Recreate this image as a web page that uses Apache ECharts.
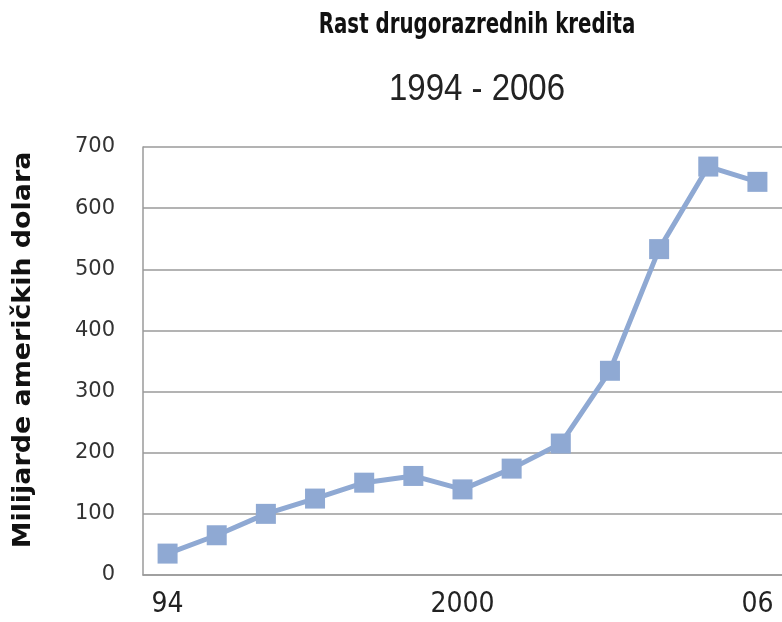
<!DOCTYPE html>
<html>
<head>
<meta charset="utf-8">
<title>Rast drugorazrednih kredita</title>
<script src="https://cdn.jsdelivr.net/npm/echarts@6/dist/echarts.min.js"></script>
<style>
  html, body { margin: 0; padding: 0; background: #fff; }
  #chart { width: 782px; height: 622px; }
</style>
</head>
<body>
<div id="chart"></div>
<script>
// godine i vrijednosti (milijarde USD), procijenjeno sa slike
var years = ['1994', '1995', '1996', '1997', '1998', '1999', '2000', '2001', '2002', '2003', '2004', '2005', '2006'];
var loans = [35, 65, 100, 125, 151, 162, 140, 174, 215, 334, 533, 668, 643];
// oznake koje se vide ispod osi
var xTickLabels = { '1994': '94', '2000': '2000', '2006': '06' };
var yTicks = [0, 100, 200, 300, 400, 500, 600, 700];

var myChart = echarts.init(document.getElementById('chart'));

myChart.setOption({
    animation: false,
    grid: { left: 143, top: 147, bottom: 47, width: 641 },
    graphic: [
        {
            type: 'text', x: 477, y: 26, scaleY: 1.3,
            style: {
                text: 'Rast drugorazrednih kredita', align: 'center', verticalAlign: 'middle',
                font: 'bold 22px "DejaVu Sans Condensed", "DejaVu Sans", sans-serif', fill: '#111'
            }
        },
        {
            type: 'text', x: 477, y: 90, scaleY: 1.1,
            style: {
                text: '1994 - 2006', align: 'center', verticalAlign: 'middle',
                font: '33px "Liberation Sans", Arial, sans-serif', fill: '#222'
            }
        },
        {
            type: 'text', x: 24, y: 350, rotation: Math.PI / 2, scaleX: 1.12,
            style: {
                text: 'Milijarde američkih dolara', align: 'center', verticalAlign: 'middle',
                font: 'bold 24px "DejaVu Sans", sans-serif', fill: '#111'
            }
        }
    ],
    xAxis: {
        type: 'category',
        data: years,
        boundaryGap: true,
        axisLine: { lineStyle: { color: '#9a9a9a', width: 1.5 } },
        axisTick: { show: false },
        axisLabel: {
            interval: 0,
            margin: 16,
            fontFamily: '"DejaVu Sans Condensed", "DejaVu Sans", sans-serif',
            fontSize: 28,
            color: '#222',
            formatter: function (v) { return xTickLabels[v] || ''; }
        }
    },
    yAxis: {
        type: 'value',
        min: yTicks[0],
        max: yTicks[yTicks.length - 1],
        interval: 100,
        axisLine: { show: true, lineStyle: { color: '#9a9a9a', width: 1.5 } },
        axisTick: { show: false },
        axisLabel: {
            margin: 28,
            fontFamily: '"DejaVu Sans", sans-serif',
            fontSize: 21,
            color: '#333'
        },
        splitLine: { lineStyle: { color: '#9a9a9a', width: 1.5 } }
    },
    series: [
        {
            type: 'line',
            data: loans,
            symbol: 'rect',
            symbolSize: 20,
            lineStyle: { color: '#8fa9d3', width: 5 },
            itemStyle: { color: '#8fa9d3' }
        }
    ]
});
</script>
</body>
</html>
